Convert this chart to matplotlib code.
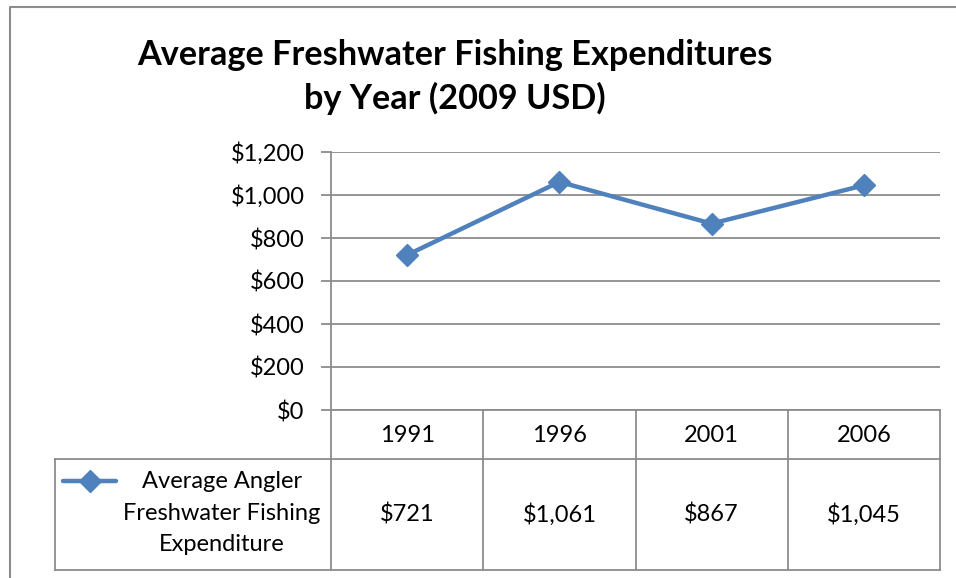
import numpy as np
import matplotlib.pyplot as plt
from matplotlib.lines import Line2D
from matplotlib.transforms import blended_transform_factory

plt.rcParams['font.family'] = ['Lato', 'DejaVu Sans']

years = ['1991', '1996', '2001', '2006']
spend = [721, 1061, 867, 1045]
spend_labels = ['$721', '$1,061', '$867', '$1,045']
yticks = [0, 200, 400, 600, 800, 1000, 1200]
series_name = 'Average Angler\nFreshwater Fishing\nExpenditure'
title = 'Average Freshwater Fishing Expenditures\nby Year (2009 USD)'

W, H = 956, 578
blue = '#4F81BD'
grey = '#8C8C8C'

def fx(px):
    return px / W

def fy(py):
    return 1 - py / H

fig = plt.figure(figsize=(W/100, H/100), dpi=100)

# outer chart border (only left and top show in the crop)
fig.add_artist(Line2D([fx(10), fx(10), fx(960)], [fy(600), fy(7), fy(7)],
                      color=grey, lw=1.5))

fig.text(fx(455), fy(77), title, ha='center', va='center', fontsize=24.7,
         fontweight='bold', linespacing=1.42)

ax = fig.add_axes([fx(331), fy(410), fx(940) - fx(331), fy(152) - fy(410)])
x = np.arange(len(years))
ax.plot(x, spend, color=blue, lw=3.2, marker='D', ms=11, zorder=3)
ax.set_xlim(-0.5, len(years) - 0.5)
ax.set_ylim(0, 1200)
ax.set_yticks(yticks)
ax.set_yticklabels(['${:,}'.format(v) for v in yticks], fontsize=17)
ax.set_xticks([])
ax.grid(axis='y', color=grey, lw=1.3)
ax.tick_params(axis='y', length=7, width=1.3, color=grey, pad=12)
for s in ['top', 'right', 'bottom']:
    ax.spines[s].set_visible(False)
ax.spines['left'].set_color(grey)
ax.spines['left'].set_linewidth(1.3)

# data table under the axis
tr = blended_transform_factory(ax.transData, fig.transFigure)
for i in range(len(years)):
    ax.text(x[i], fy(435), years[i], transform=tr, ha='center', va='center', fontsize=17)
    ax.text(x[i], fy(515), spend_labels[i], transform=tr, ha='center', va='center', fontsize=17)

bounds = np.arange(len(years) + 1) - 0.5
for b in bounds:
    ax.add_artist(Line2D([b, b], [fy(410), fy(570)], transform=tr, color=grey,
                         lw=1.3, clip_on=False))
fig.add_artist(Line2D([fx(331), fx(940)], [fy(410), fy(410)], color=grey, lw=1.3))
fig.add_artist(Line2D([fx(55), fx(940)], [fy(459), fy(459)], color=grey, lw=1.3))
fig.add_artist(Line2D([fx(55), fx(940)], [fy(570), fy(570)], color=grey, lw=1.3))
fig.add_artist(Line2D([fx(55), fx(55)], [fy(459), fy(570)], color=grey, lw=1.3))

# legend key inside the table
fig.add_artist(Line2D([fx(63), fx(116)], [fy(481), fy(481)], color=blue, lw=3.2,
                      solid_capstyle='round'))
fig.add_artist(Line2D([fx(89.5)], [fy(481)], color=blue, marker='D', ms=11))
fig.text(fx(222), fy(513), series_name, ha='center', va='center', fontsize=17,
         linespacing=1.6)

fig.savefig('out.png', dpi=100)
